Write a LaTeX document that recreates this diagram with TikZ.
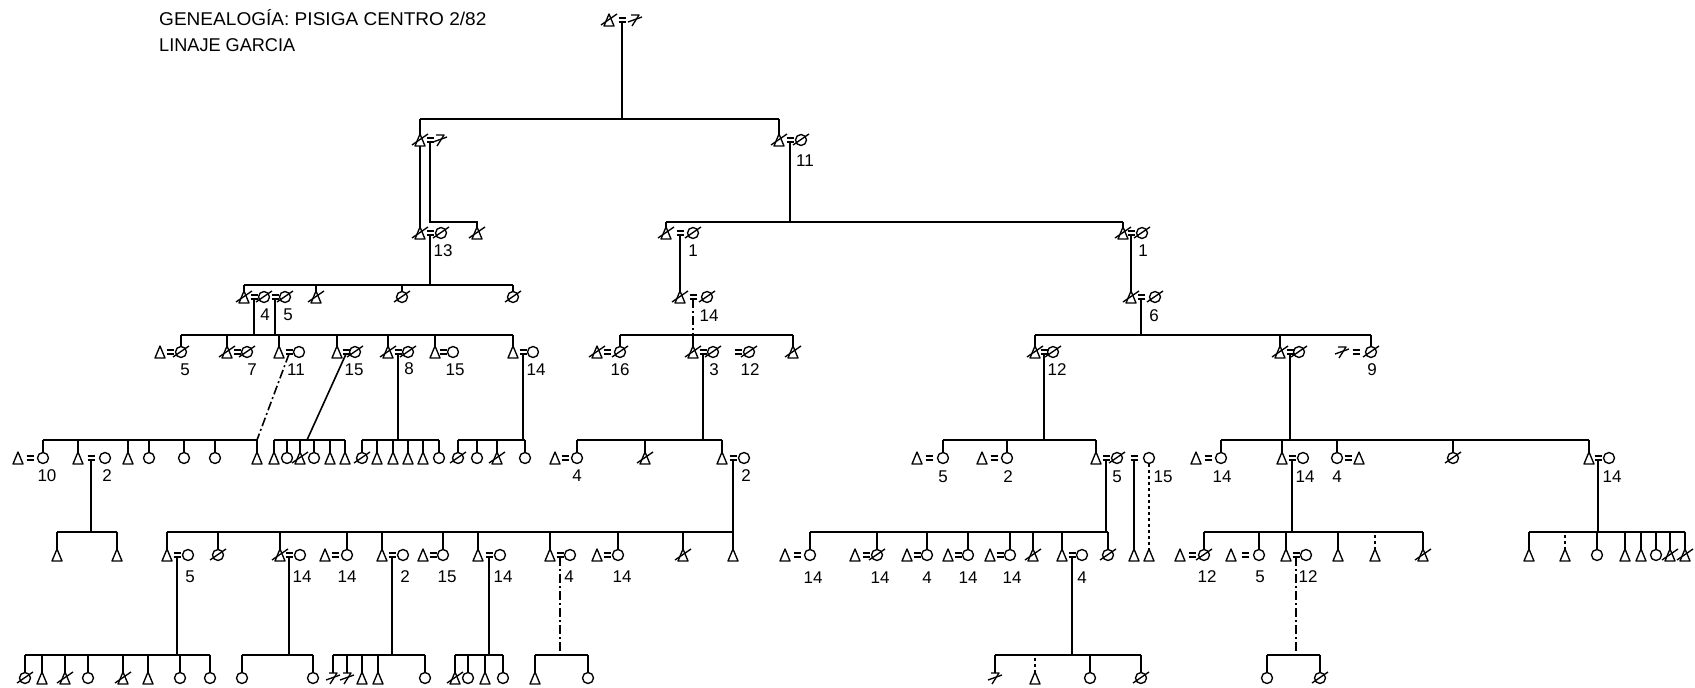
\documentclass[tikz,border=0pt]{standalone}
\usepackage{fontspec}
\setmainfont{Liberation Sans}
\usetikzlibrary{calc}
\tikzset{
 sym/.style={line width=1.35pt, line join=round},
 ln/.style={line width=1.6pt},
 thn/.style={line width=1.1pt},
 dd/.style={dash pattern=on 9pt off 3pt on 2pt off 3pt},
 num/.style={font=\fontsize{17}{17}\selectfont, inner sep=0pt},
 ttl/.style={font=\fontsize{18.5}{18.5}\selectfont, inner sep=0pt, anchor=west},
}
\newcommand\gMa[3]{\coordinate (#1) at (#2,#3);\draw[sym] ($(#1)+(-5,6)$) -- ($(#1)+(0,-6)$) -- ($(#1)+(5,6)$) -- cycle;}
\newcommand\gFe[3]{\coordinate (#1) at (#2,#3);\draw[sym] (#1) circle[radius=5.5pt];}
\newcommand\gUn[3]{\coordinate (#1) at (#2,#3);\draw[sym] ($(#1)+(-4,-5)$) -- ($(#1)+(4,-5)$) -- ($(#1)+(-3,6)$);\draw[sym] ($(#1)+(-7,2)$) -- ($(#1)+(7,-3)$);}
\newcommand\gEq[3]{\coordinate (#1) at (#2,#3);\draw[sym] ($(#1)+(-3.5,-2)$) -- ($(#1)+(3.5,-2)$) ($(#1)+(-3.5,2)$) -- ($(#1)+(3.5,2)$);}
\newcommand\gX[1]{\draw[sym] ($(#1)+(-8,5)$) -- ($(#1)+(8,-6)$);}
\newcommand\gNum[4]{\node[num] (#1) at (#2,#3) {#4};}
\newcommand\gBar[4]{\coordinate (#1) at (#3,#2);\draw[ln] (#3,#2) -- (#4,#2);}
\newcommand\gDrops[2]{\foreach \c in {#2}{\draw[ln] ([yshift=5.5pt]\c) -- (\c |- #1);}}
\newcommand\gDown[3][ln]{\draw[#1] ([yshift=-2pt]#2) -- (#2 |- #3);}
\begin{document}
\begin{tikzpicture}[x=1pt,y=-1pt]
\useasboundingbox (0,0) rectangle (1695,688);
\fill[white] (0,0) rectangle (1695,688);
% title
\node[ttl, xscale=1.03] (t1) at (159,18) {GENEALOGÍA: PISIGA CENTRO 2/82};
\node[ttl, xscale=0.98] (t2) at (159,45) {LINAJE GARCIA};
% G0
\gMa{a0}{609}{20}\gX{a0}\gEq{e0}{622}{20}\gUn{u0}{635}{20}
\gBar{b1}{119}{420}{779}
\gDown[thn]{e0}{b1}
% G1
\gMa{g1a}{420}{140}\gX{g1a}\gEq{g1ae}{430}{140}\gUn{g1au}{440}{140}
\gMa{g1b}{779}{140}\gX{g1b}\gEq{g1be}{790}{140}\gFe{g1bw}{801}{140}\gX{g1bw}
\gNum{n11}{805}{161}{11}
\gDrops{b1}{g1a,g1b}
% G2
\gMa{g2a}{420}{233}\gX{g2a}\gEq{g2ae}{430}{233}\gFe{g2aw}{441}{233}\gX{g2aw}\gNum{n13}{443}{251}{13}
\gMa{g2b}{477}{233}\gX{g2b}
\gMa{g2c}{666}{233}\gX{g2c}\gEq{g2ce}{680}{233}\gFe{g2cw}{693}{233}\gX{g2cw}\gNum{n1a}{693}{251}{1}
\gMa{g2d}{1123}{233}\gX{g2d}\gEq{g2de}{1131}{233}\gFe{g2dw}{1142}{233}\gX{g2dw}\gNum{n1b}{1143}{251}{1}
\draw[ln] ([yshift=-6pt]g1a) -- ([yshift=6pt]g2a);
\coordinate (k1) at (477,222);
\draw[ln] ([yshift=-2pt]g1ae) |- (k1) -- ([yshift=5.5pt]g2b);
\gBar{b2}{222}{666}{1123}
\gDown[thn]{g1be}{b2}
\gDrops{b2}{g2c,g2d}
% G3
\gMa{g3a}{244}{297}\gX{g3a}\gEq{g3ae}{254}{297}\gFe{g3aw}{264}{297}\gX{g3aw}\gEq{g3ae2}{275}{297}\gFe{g3aw2}{285}{297}\gX{g3aw2}
\gNum{n4a}{265}{315}{4}\gNum{n5a}{288}{315}{5}
\gMa{g3b}{316}{297}\gX{g3b}
\gFe{g3c}{402}{297}\gX{g3c}
\gFe{g3d}{513}{297}\gX{g3d}
\gMa{g3e}{680}{297}\gX{g3e}\gEq{g3ee}{693}{297}\gFe{g3ew}{707}{297}\gX{g3ew}\gNum{n14a}{709}{316}{14}
\gMa{g3f}{1131}{297}\gX{g3f}\gEq{g3fe}{1141}{297}\gFe{g3fw}{1155}{297}\gX{g3fw}\gNum{n6}{1154}{316}{6}
\gBar{b3}{285}{244}{513}
\gDown[thn]{g2ae}{b3}
\gDrops{b3}{g3a,g3b,g3c,g3d}
\draw[ln] ([yshift=-2pt]g2ce) -- ([yshift=6pt]g3e);
\draw[ln] ([yshift=-2pt]g2de) -- ([yshift=6pt]g3f);
% G4
\gMa{g4a}{160}{352}\gEq{g4ae}{170}{352}\gFe{g4aw}{181}{352}\gX{g4aw}\gNum{n5b}{185}{370}{5}
\gMa{g4b}{227}{352}\gX{g4b}\gEq{g4be}{237}{352}\gFe{g4bw}{247}{352}\gX{g4bw}\gNum{n7}{252}{370}{7}
\gMa{g4c}{279}{352}\gEq{g4ce}{289}{352}\gFe{g4cw}{299}{352}\gNum{n11b}{296}{370}{11}
\gMa{g4d}{337}{352}\gEq{g4de}{346}{352}\gFe{g4dw}{355}{352}\gX{g4dw}\gNum{n15a}{354}{370}{15}
\gMa{g4e}{388}{352}\gX{g4e}\gEq{g4ee}{398}{352}\gFe{g4ew}{408}{352}\gX{g4ew}\gNum{n8}{409}{369}{8}
\gMa{g4f}{435}{352}\gEq{g4fe}{443}{352}\gFe{g4fw}{453}{352}\gNum{n15b}{455}{370}{15}
\gMa{g4g}{513}{352}\gEq{g4ge}{523}{352}\gFe{g4gw}{533}{352}\gNum{n14b}{536}{370}{14}
\gMa{g4h}{597}{352}\gX{g4h}\gEq{g4he}{607}{352}\gFe{g4hw}{620}{352}\gX{g4hw}\gNum{n16}{620}{370}{16}
\gMa{g4i}{693}{352}\gX{g4i}\gEq{g4ie}{703}{352}\gFe{g4iw}{713}{352}\gX{g4iw}\gEq{g4ie2}{738}{352}\gFe{g4iw2}{749}{352}\gX{g4iw2}
\gNum{n3}{714}{370}{3}\gNum{n12a}{750}{370}{12}
\gMa{g4j}{793}{352}\gX{g4j}
\gMa{g4k}{1035}{352}\gX{g4k}\gEq{g4ke}{1044}{352}\gFe{g4kw}{1053}{352}\gX{g4kw}\gNum{n12b}{1057}{370}{12}
\gMa{g4l}{1280}{352}\gX{g4l}\gEq{g4le}{1290}{352}\gFe{g4lw}{1299}{352}\gX{g4lw}
\gUn{g4m}{1342}{352}\gEq{g4me}{1356}{352}\gFe{g4mw}{1371}{352}\gX{g4mw}\gNum{n9}{1372}{370}{9}
\gBar{b4a}{335}{181}{513}
\gDown{g3ae}{b4a}\gDown{g3ae2}{b4a}
\gDrops{b4a}{g4aw,g4b,g4c,g4d,g4e,g4f,g4g}
\gBar{b4b}{335}{620}{793}
\draw[ln,dd] ([yshift=-2pt]g3ee) -- (g3ee |- b4b);
\gDrops{b4b}{g4hw,g4i,g4j}
\gBar{b4c}{335}{1035}{1371}
\gDown{g3fe}{b4c}
\gDrops{b4c}{g4k,g4l,g4mw}
% G5
\gMa{g5a}{18}{458}\gEq{g5ae}{30}{458}\gFe{g5aw}{43}{458}\gNum{n10}{47}{476}{10}
\gMa{g5b}{78}{458}\gEq{g5be}{91}{458}\gFe{g5bw}{105}{458}\gNum{n2a}{107}{476}{2}
\gMa{g5c}{128}{458}\gFe{g5d}{149}{458}\gFe{g5e}{184}{458}\gFe{g5f}{215}{458}\gMa{g5g}{257}{458}
\gMa{g5h}{274}{458}\gFe{g5i}{287}{458}\gMa{g5j}{300}{458}\gX{g5j}\gFe{g5k}{314}{458}\gMa{g5l}{330}{458}\gMa{g5m}{345}{458}
\gFe{g5n}{362}{458}\gX{g5n}\gMa{g5o}{377}{458}\gMa{g5p}{393}{458}\gMa{g5q}{408}{458}\gMa{g5r}{423}{458}\gFe{g5s}{439}{458}
\gFe{g5t}{458}{458}\gX{g5t}\gFe{g5u}{477}{458}\gMa{g5v}{497}{458}\gX{g5v}\gFe{g5w}{525}{458}
\gMa{g5x}{555}{458}\gEq{g5xe}{565}{458}\gFe{g5xw}{577}{458}\gNum{n4b}{577}{476}{4}
\gMa{g5y}{645}{458}\gX{g5y}
\gMa{g5z}{722}{458}\gEq{g5ze}{733}{458}\gFe{g5zw}{744}{458}\gNum{n2b}{746}{476}{2}
\gMa{g5aa}{917}{458}\gEq{g5aae}{929}{458}\gFe{g5aaw}{943}{458}\gNum{n5c}{943}{477}{5}
\gMa{g5bb}{982}{458}\gEq{g5bbe}{994}{458}\gFe{g5bbw}{1007}{458}\gNum{n2c}{1008}{477}{2}
\gMa{g5cc}{1096}{458}\gEq{g5cce}{1106}{458}\gFe{g5ccw}{1117}{458}\gX{g5ccw}\gEq{g5cce2}{1134}{458}\gFe{g5ccw2}{1149}{458}
\gNum{n5d}{1117}{477}{5}\gNum{n15c}{1163}{477}{15}
\gMa{g5dd}{1196}{458}\gEq{g5dde}{1208}{458}\gFe{g5ddw}{1221}{458}\gNum{n14c}{1222}{477}{14}
\gMa{g5ee}{1282}{458}\gEq{g5eee}{1292}{458}\gFe{g5eew}{1303}{458}\gNum{n14d}{1305}{477}{14}
\gFe{g5ff}{1337}{458}\gEq{g5ffe}{1348}{458}\gMa{g5ffh}{1359}{458}\gNum{n4c}{1337}{477}{4}
\gFe{g5gg}{1453}{458}\gX{g5gg}
\gMa{g5hh}{1589}{458}\gEq{g5hhe}{1598}{458}\gFe{g5hhw}{1609}{458}\gNum{n14e}{1612}{477}{14}
\gBar{b5a}{440}{43}{257}
\draw[ln,dd] ([yshift=-2pt]g4ce) -- (g5g |- b5a);
\gDrops{b5a}{g5aw,g5b,g5c,g5d,g5e,g5f,g5g}
\gBar{b5b}{440}{274}{345}
\coordinate (k2) at (307,440);
\draw[ln] ([yshift=-2pt]g4de) -- (k2);
\gDrops{b5b}{g5h,g5i,g5j,g5k,g5l,g5m}
\gBar{b5c}{440}{362}{439}
\gDown{g4ee}{b5c}
\gDrops{b5c}{g5n,g5o,g5p,g5q,g5r,g5s}
\gBar{b5d}{440}{458}{525}
\gDown[thn]{g4ge}{b5d}
\gDrops{b5d}{g5t,g5u,g5v,g5w}
\gBar{b5e}{440}{577}{722}
\gDown{g4ie}{b5e}
\gDrops{b5e}{g5xw,g5y,g5z}
\gBar{b5f}{440}{943}{1096}
\gDown[thn]{g4ke}{b5f}
\gDrops{b5f}{g5aaw,g5bbw,g5cc}
\gBar{b5g}{440}{1221}{1589}
\gDown{g4le}{b5g}
\gDrops{b5g}{g5ddw,g5ee,g5ff,g5gg,g5hh}
% G6
\gMa{g6a}{57}{555}\gMa{g6b}{117}{555}
\gMa{g6c}{167}{555}\gEq{g6ce}{177}{555}\gFe{g6cw}{188}{555}\gNum{n5e}{190}{577}{5}
\gFe{g6d}{218}{555}\gX{g6d}
\gMa{g6e}{280}{555}\gX{g6e}\gEq{g6ee}{289}{555}\gFe{g6ew}{300}{555}\gNum{n14f}{302}{577}{14}
\gMa{g6f}{325}{555}\gEq{g6fe}{335}{555}\gFe{g6fw}{347}{555}\gNum{n14g}{347}{577}{14}
\gMa{g6g}{382}{555}\gEq{g6ge}{392}{555}\gFe{g6gw}{403}{555}\gNum{n2d}{405}{577}{2}
\gMa{g6h}{423}{555}\gEq{g6he}{433}{555}\gFe{g6hw}{443}{555}\gNum{n15d}{447}{577}{15}
\gMa{g6i}{478}{555}\gEq{g6ie}{489}{555}\gFe{g6iw}{500}{555}\gNum{n14h}{503}{577}{14}
\gMa{g6j}{550}{555}\gEq{g6je}{560}{555}\gFe{g6jw}{570}{555}\gNum{n4d}{569}{577}{4}
\gMa{g6k}{597}{555}\gEq{g6ke}{607}{555}\gFe{g6kw}{618}{555}\gNum{n14i}{622}{577}{14}
\gMa{g6l}{683}{555}\gX{g6l}
\gMa{g6m}{733}{555}
\gMa{g6n}{785}{555}\gEq{g6ne}{797}{555}\gFe{g6nw}{810}{555}\gNum{n14j}{813}{578}{14}
\gMa{g6o}{855}{555}\gEq{g6oe}{866}{555}\gFe{g6ow}{877}{555}\gX{g6ow}\gNum{n14k}{880}{578}{14}
\gMa{g6p}{907}{555}\gEq{g6pe}{917}{555}\gFe{g6pw}{927}{555}\gNum{n4e}{927}{578}{4}
\gMa{g6q}{948}{555}\gEq{g6qe}{958}{555}\gFe{g6qw}{968}{555}\gNum{n14l}{968}{578}{14}
\gMa{g6r}{990}{555}\gEq{g6re}{1000}{555}\gFe{g6rw}{1010}{555}\gNum{n14m}{1012}{578}{14}
\gMa{g6s}{1033}{555}\gX{g6s}
\gMa{g6t}{1062}{555}\gEq{g6te}{1072}{555}\gFe{g6tw}{1082}{555}\gNum{n4f}{1082}{578}{4}
\gFe{g6u}{1108}{555}\gX{g6u}
\gMa{g6v}{1134}{555}\gMa{g6w}{1149}{555}
\gMa{g6x}{1180}{555}\gEq{g6xe}{1192}{555}\gFe{g6xw}{1204}{555}\gX{g6xw}\gNum{n12c}{1207}{577}{12}
\gMa{g6y}{1231}{555}\gEq{g6ye}{1245}{555}\gFe{g6yw}{1259}{555}\gNum{n5f}{1260}{577}{5}
\gMa{g6z}{1286}{555}\gEq{g6ze}{1296}{555}\gFe{g6zw}{1306}{555}\gNum{n12d}{1308}{577}{12}
\gMa{q6a}{1338}{555}\gMa{q6b}{1375}{555}\gMa{q6c}{1423}{555}\gX{q6c}
\gMa{r6a}{1529}{555}\gMa{r6b}{1565}{555}\gFe{r6c}{1597}{555}\gMa{r6d}{1625}{555}\gMa{r6e}{1641}{555}\gFe{r6f}{1656}{555}\gMa{r6g}{1670}{555}\gX{r6g}\gMa{r6h}{1685}{555}\gX{r6h}
\gBar{b6a}{532}{57}{117}
\gDown{g5be}{b6a}
\gDrops{b6a}{g6a,g6b}
\gBar{b6b}{532}{167}{733}
\gDown{g5ze}{b6b}
\gDrops{b6b}{g6c,g6d,g6e,g6fw,g6g,g6hw,g6i,g6j,g6kw,g6l,g6m}
\gBar{b6c}{532}{810}{1108}
\gDown{g5cce}{b6c}
\gDrops{b6c}{g6nw,g6ow,g6pw,g6qw,g6rw,g6s,g6t,g6u}
\draw[ln] ([yshift=-2pt]g5cce2) -- ([yshift=6pt]g6v);
\draw[ln,dashed] ([yshift=-5.5pt]g5ccw2) -- ([yshift=6pt]g6w);
\gBar{b6d}{532}{1204}{1423}
\gDown{g5eee}{b6d}
\gDrops{b6d}{g6xw,g6yw,g6z,q6a,q6c}
\draw[ln,dashed] ([yshift=5.5pt]q6b) -- (q6b |- b6d);
\gBar{b6e}{532}{1529}{1685}
\gDown[thn]{g5hhe}{b6e}
\gDrops{b6e}{r6a,r6c,r6d,r6e,r6f,r6g,r6h}
\draw[ln,dashed] ([yshift=5.5pt]r6b) -- (r6b |- b6e);
% G7
\gFe{g7a}{25}{678}\gX{g7a}\gMa{g7b}{42}{678}\gMa{g7c}{65}{678}\gX{g7c}\gFe{g7d}{88}{678}\gMa{g7e}{123}{678}\gX{g7e}\gMa{g7f}{148}{678}\gFe{g7g}{180}{678}\gFe{g7h}{210}{678}
\gFe{g7i}{242}{678}\gFe{g7j}{313}{678}
\gUn{g7k}{333}{678}\gUn{g7l}{347}{678}\gMa{g7m}{362}{678}\gMa{g7n}{378}{678}\gFe{g7o}{425}{678}
\gMa{g7p}{455}{678}\gX{g7p}\gFe{g7q}{468}{678}\gMa{g7r}{485}{678}\gFe{g7s}{503}{678}
\gMa{g7t}{535}{678}\gFe{g7u}{588}{678}
\gUn{g7v}{995}{678}\gMa{g7w}{1035}{678}\gFe{g7x}{1090}{678}\gFe{g7y}{1141}{678}\gX{g7y}
\gFe{g7z}{1267}{678}\gFe{g7zz}{1320}{678}\gX{g7zz}
\gBar{b7a}{655}{25}{210}
\gDown{g6ce}{b7a}
\gDrops{b7a}{g7a,g7b,g7c,g7d,g7e,g7f,g7g,g7h}
\gBar{b7b}{655}{242}{313}
\gDown{g6ee}{b7b}
\gDrops{b7b}{g7i,g7j}
\gBar{b7c}{655}{333}{425}
\gDown{g6ge}{b7c}
\gDrops{b7c}{g7k,g7l,g7m,g7n,g7o}
\gBar{b7d}{655}{455}{503}
\gDown{g6ie}{b7d}
\gDrops{b7d}{g7p,g7q,g7r,g7s}
\gBar{b7e}{655}{535}{588}
\draw[ln,dd] ([yshift=-2pt]g6je) -- (g6je |- b7e);
\gDrops{b7e}{g7t,g7u}
\gBar{b7f}{655}{995}{1141}
\gDown[thn]{g6te}{b7f}
\gDrops{b7f}{g7v,g7x,g7y}
\draw[ln,dashed] ([yshift=5.5pt]g7w) -- (g7w |- b7f);
\gBar{b7g}{655}{1267}{1320}
\draw[ln,dd] ([yshift=-2pt]g6ze) -- (g6ze |- b7g);
\gDrops{b7g}{g7z,g7zz}
\end{tikzpicture}
\end{document}
